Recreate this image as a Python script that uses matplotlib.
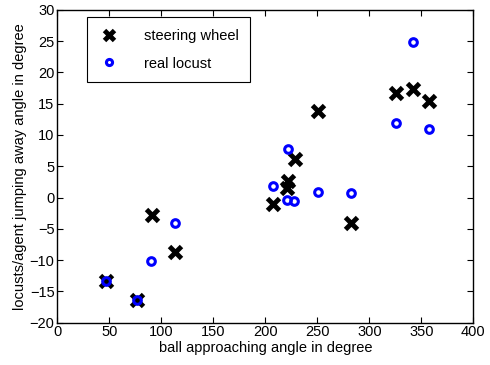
import numpy as np
import matplotlib.pyplot as plt

plt.rcParams['font.family'] = ['Liberation Sans', 'DejaVu Sans']

# steering wheel (agent) data
wheel_x = [47, 77, 91, 113, 207, 221, 222, 229, 251, 282, 326, 342, 357]
wheel_y = [-13.4, -16.4, -2.8, -8.7, -1.0, 1.5, 2.7, 6.2, 13.8, -4.1, 16.7, 17.3, 15.5]

# real locust data
locust_x = [47, 77, 90, 113, 207, 222, 221, 228, 251, 282, 326, 342, 357]
locust_y = [-13.3, -16.3, -10.1, -4.1, 1.8, 7.7, -0.4, -0.6, 0.9, 0.7, 11.9, 24.9, 11.0]

fig = plt.figure(figsize=(4.9, 3.65), dpi=100)
ax = fig.add_axes([0.117, 0.116, 0.849, 0.857])

ax.plot(wheel_x, wheel_y, linestyle='none', marker='x', color='black',
        markersize=9, markeredgewidth=3.5, label='steering wheel')
ax.plot(locust_x, locust_y, linestyle='none', marker='o', color='blue',
        markerfacecolor='none', markersize=5.5, markeredgewidth=2.2, label='real locust')

ax.set_xlim(0, 400)
ax.set_ylim(-20, 30)
ax.set_xticks(np.arange(0, 401, 50))
ax.set_yticks(np.arange(-20, 31, 5))
ax.tick_params(direction='in', top=True, right=True, labelsize=10.5, length=4, pad=2)
for s in ax.spines.values():
    s.set_linewidth(1.0)

ax.set_xlabel('ball approaching angle in degree', fontsize=10.5, labelpad=1)
ax.set_ylabel('locusts/agent jumping away angle in degree', fontsize=10.5, labelpad=2)

leg = ax.legend(loc='upper left', bbox_to_anchor=(0.0707, 0.977), fontsize=10.5,
                fancybox=False, edgecolor='black', framealpha=1, borderpad=0.8,
                handlelength=1.5, handletextpad=1.6, labelspacing=0.95,
                borderaxespad=0, markerscale=0.8)
leg.get_frame().set_linewidth(0.8)

fig.savefig('out.png', dpi=100)
